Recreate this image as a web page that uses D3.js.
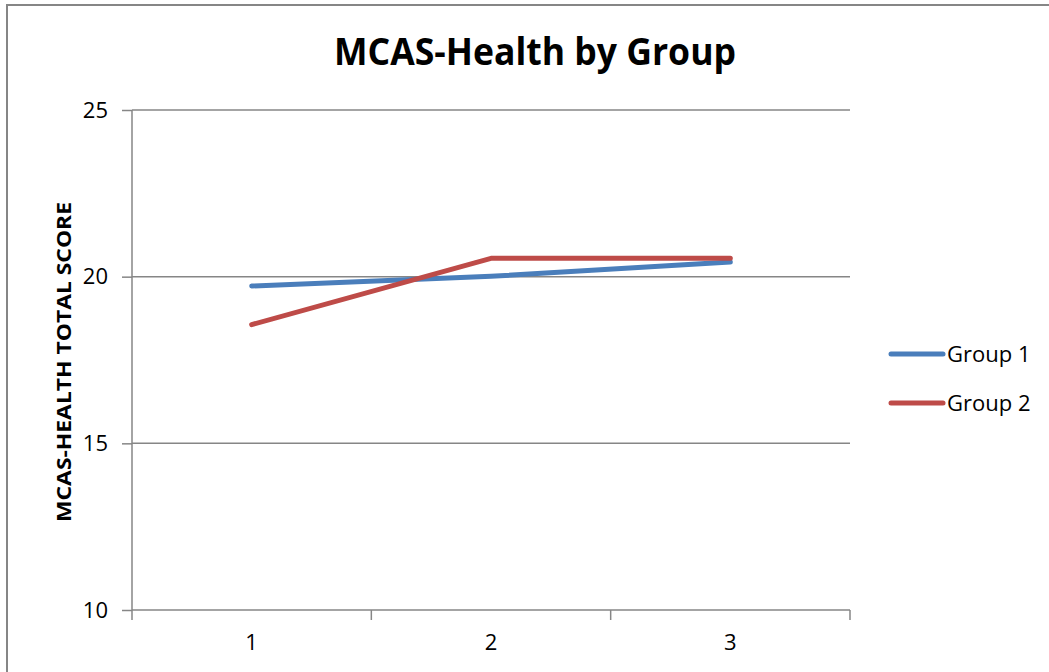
<!DOCTYPE html>
<html>
<head>
<meta charset="utf-8">
<script src="https://d3js.org/d3.v7.min.js"></script>
<style>
  html, body { margin: 0; padding: 0; background: #fff; }
  svg { display: block; }
</style>
</head>
<body>
<svg id="chart" width="1049" height="672"></svg>
<script>
const categories = ["1", "2", "3"];
const group1 = [19.72, 20.01, 20.44];
const group2 = [18.56, 20.55, 20.55];
const seriesNames = ["Group 1", "Group 2"];
const seriesColors = ["#4A7EBB", "#BE4B48"];
const yTicks = [10, 15, 20, 25];

const svg = d3.select("#chart");
const font = "'Open Sans', 'Liberation Sans', sans-serif";
const gray = "#868686";

// outer chart border
svg.append("rect").attr("x", 7).attr("y", 5).attr("width", 1100).attr("height", 700)
  .attr("fill", "none").attr("stroke", gray).attr("stroke-width", 2);

const plot = { left: 132, right: 850, top: 110, bottom: 610 };

const x = d3.scaleBand().domain(categories).range([plot.left, plot.right]);
const y = d3.scaleLinear().domain([10, 25]).range([plot.bottom, plot.top]);

// gridlines
svg.append("g").selectAll("line").data(yTicks.filter(d => d !== 10)).join("line")
  .attr("x1", plot.left).attr("x2", plot.right)
  .attr("y1", d => y(d)).attr("y2", d => y(d))
  .attr("stroke", gray).attr("stroke-width", 1.5);

// y axis
const yAxis = svg.append("g").attr("transform", `translate(${plot.left},0)`)
  .call(d3.axisLeft(y).tickValues(yTicks).tickSize(10).tickPadding(14).tickFormat(d3.format("d")));
yAxis.select(".domain").attr("stroke", gray).attr("stroke-width", 1.5).attr("d", `M0,${plot.top}V${plot.bottom}`);
yAxis.selectAll(".tick line").attr("stroke", gray).attr("stroke-width", 1.5);
yAxis.selectAll(".tick text").attr("font-family", font).attr("font-size", 22).attr("fill", "#000");

// x axis
const xAxis = svg.append("g").attr("transform", `translate(0,${plot.bottom})`)
  .call(d3.axisBottom(x).tickSize(0).tickPadding(24));
xAxis.select(".domain").attr("stroke", gray).attr("stroke-width", 1.5).attr("d", `M${plot.left},0H${plot.right}`);
xAxis.selectAll(".tick text").attr("font-family", font).attr("font-size", 22).attr("fill", "#000");
// category boundary ticks
const bounds = categories.map(c => x(c)).concat([x(categories[categories.length - 1]) + x.bandwidth()]);
xAxis.append("g").selectAll("line").data(bounds).join("line")
  .attr("x1", d => d).attr("x2", d => d).attr("y1", 0).attr("y2", 10)
  .attr("stroke", gray).attr("stroke-width", 1.5);

// lines
const line = d3.line().x((d, i) => x(categories[i]) + x.bandwidth() / 2).y(d => y(d));
[group1, group2].forEach((s, i) => {
  svg.append("path").datum(s).attr("d", line).attr("fill", "none")
    .attr("stroke", seriesColors[i]).attr("stroke-width", 5)
    .attr("stroke-linecap", "round").attr("stroke-linejoin", "round");
});

// title
svg.append("text").attr("x", 535).attr("y", 65).attr("text-anchor", "middle")
  .attr("font-family", font).attr("font-weight", "bold").attr("font-size", 37)
  .attr("textLength", 402).attr("lengthAdjust", "spacingAndGlyphs")
  .text("MCAS-Health by Group");

// y axis title
svg.append("text").attr("transform", "translate(71,362) rotate(-90)").attr("text-anchor", "middle")
  .attr("font-family", font).attr("font-weight", "bold").attr("font-size", 20)
  .attr("textLength", 320).attr("lengthAdjust", "spacingAndGlyphs")
  .text("MCAS-HEALTH TOTAL SCORE");

// legend
const legend = svg.append("g");
seriesNames.forEach((n, i) => {
  const ly = 354 + i * 49;
  legend.append("line").attr("x1", 891).attr("x2", 943).attr("y1", ly).attr("y2", ly)
    .attr("stroke", seriesColors[i]).attr("stroke-width", 5).attr("stroke-linecap", "round");
  legend.append("text").attr("x", 947).attr("y", ly + 8)
    .attr("font-family", font).attr("font-size", 22).attr("fill", "#000").text(n);
});
</script>
</body>
</html>
